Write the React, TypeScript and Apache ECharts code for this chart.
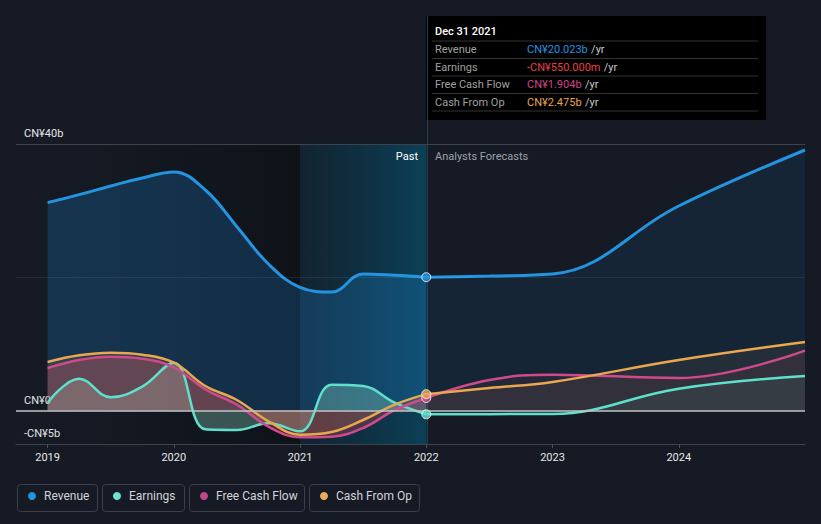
import React, { useEffect, useRef } from "react";
import * as echarts from "echarts";

// ---- data (CN¥ billions) ----
const pastYears = [2019, 2019.25, 2019.5, 2019.75, 2020, 2020.25, 2020.5, 2020.75, 2021, 2021.25, 2021.5, 2021.75, 2022];
const revenuePast = [31.2, 32.4, 33.7, 34.9, 35.8, 33.1, 27.6, 22.0, 18.5, 17.8, 20.5, 20.3, 20.023];
const earningsPast = [1.2, 4.8, 2.0, 3.6, 7.2, -2.8, -2.9, -1.9, -3.1, 3.9, 3.7, 1.2, -0.55];
const fcfPast = [6.4, 7.6, 8.1, 7.8, 6.5, 3.2, 0.9, -2.4, -4.0, -3.9, -2.6, 0.1, 1.904];
const cfoPast = [7.3, 8.3, 8.7, 8.4, 7.2, 3.7, 1.6, -1.6, -3.6, -3.2, -1.4, 0.9, 2.475];

const forecastYears = [2022, 2022.5, 2023, 2024, 2025];
const revenueForecast = [20.023, 20.2, 20.5, 30.7, 39.1];
const earningsForecast = [-0.55, -0.52, -0.5, 3.3, 5.2];
const fcfForecast = [1.904, 4.6, 5.4, 4.9, 9.0];
const cfoForecast = [2.475, 3.4, 4.3, 7.6, 10.3];

const xTicks = [2019, 2020, 2021, 2022, 2023, 2024];
const yTicks = [-5, 0, 40];

const seriesNames = ["Revenue", "Earnings", "Free Cash Flow", "Cash From Op"];
const tooltipDate = "Dec 31 2021";
const tooltipValues = ["CN¥20.023b", "-CN¥550.000m", "CN¥1.904b", "CN¥2.475b"];

// ---- styles ----
const FONT = 'Roboto, "Noto Sans", sans-serif';
const BG = "#151a24";
const lineColors = ["#2394e0", "#5fe0cc", "#d04a8a", "#e8a850"];
const valueColors = ["#2394e6", "#e8413c", "#d0458a", "#e8a44a"];
const legendDotColors = ["#2394df", "#6ee3d3", "#c5468a", "#e8ac5a"];
const pastFill = ["rgba(33,150,243,0.30)", "rgba(150,225,205,0.45)", "rgba(220,70,100,0.42)", "rgba(230,170,90,0.18)"];
const foreFill = ["rgba(33,150,243,0.13)", "rgba(100,225,205,0.10)", "rgba(210,80,110,0.12)", "rgba(230,170,90,0.10)"];
const lineWidths = [3, 2.5, 2.5, 2.5];
const legendLayout = [
  { x: 17, w: 80 },
  { x: 102, w: 82 },
  { x: 189, w: 115 },
  { x: 309, w: 110 },
];

function fmtY(v: number) {
  if (v === 0) return "CN¥0";
  return v < 0 ? `-CN¥${-v}b` : `CN¥${v}b`;
}

export default function App() {
  const ref = useRef<HTMLDivElement>(null);
  useEffect(() => {
    if (!ref.current) return;
    const chart = echarts.init(ref.current, undefined, { renderer: "svg" });

    const pastSets = [revenuePast, earningsPast, fcfPast, cfoPast];
    const foreSets = [revenueForecast, earningsForecast, fcfForecast, cfoForecast];

    const mkLine = (name: string, years: number[], vals: number[], i: number, fill: string) => ({
      type: "line",
      name,
      data: years.map((y, k) => [y, vals[k]]),
      smooth: 0.4,
      symbol: "none",
      lineStyle: { color: lineColors[i], width: lineWidths[i] },
      areaStyle: { color: fill, origin: "auto" },
      z: 2,
      silent: true,
    });

    const series: any[] = [
      {
        type: "line",
        name: "bg",
        data: [],
        z: 0,
        silent: true,
        markArea: {
          silent: true,
          data: [
            [
              {
                xAxis: 2018.75,
                itemStyle: {
                  color: new echarts.graphic.LinearGradient(0, 0, 1, 0, [
                    { offset: 0, color: "rgba(0,0,0,0)" },
                    { offset: 0.3, color: "rgba(0,0,0,0.05)" },
                    { offset: 1, color: "rgba(0,0,0,0.32)" },
                  ]),
                },
              },
              { xAxis: 2021 },
            ],
            [
              {
                xAxis: 2021,
                itemStyle: {
                  color: new echarts.graphic.LinearGradient(0, 0, 1, 0, [
                    { offset: 0, color: "rgba(0,90,120,0.15)" },
                    { offset: 1, color: "rgba(0,110,150,0.45)" },
                  ]),
                },
              },
              { xAxis: 2022 },
            ],
          ],
        },
        markLine: {
          silent: true,
          symbol: "none",
          label: { show: false },
          data: [
            { yAxis: 40, lineStyle: { color: "#3d434d", width: 1, type: "solid" } },
            { yAxis: 20, lineStyle: { color: "rgba(255,255,255,0.07)", width: 1, type: "solid" } },
            { yAxis: 0, lineStyle: { color: "#c4c4c4", width: 1.5, type: "solid" } },
          ],
        },
      },
    ];
    for (let i = 0; i < 4; i++) {
      series.push(mkLine(seriesNames[i], pastYears, pastSets[i], i, pastFill[i]));
      series.push(mkLine(seriesNames[i] + " forecast", forecastYears, foreSets[i], i, foreFill[i]));
    }
    series.push({
      type: "scatter",
      name: "current",
      z: 10,
      silent: true,
      symbolSize: 9,
      data: pastSets.map((s, i) => ({
        value: [pastYears[pastYears.length - 1], s[s.length - 1]],
        itemStyle: { color: lineColors[i], borderColor: "#ffffff", borderWidth: 1 },
      })),
    });

    const graphics: any[] = [
      {
        type: "line",
        z: 1,
        silent: true,
        shape: { x1: 427.5, y1: 16, x2: 427.5, y2: 444 },
        style: { stroke: "#23404f", lineWidth: 1 },
      },
      {
        type: "text",
        x: 418,
        y: 156,
        z: 5,
        style: { text: "Past", fill: "#ffffff", font: `11px ${FONT}`, align: "right", verticalAlign: "middle" },
      },
      {
        type: "text",
        x: 435,
        y: 156,
        z: 5,
        style: { text: "Analysts Forecasts", fill: "#9ba1a9", font: `11px ${FONT}`, align: "left", verticalAlign: "middle" },
      },
    ];

    // tooltip-like box
    const tip: any[] = [
      { type: "rect", shape: { x: 426, y: 16, width: 340, height: 104 }, style: { fill: "#000000" } },
      {
        type: "text",
        x: 435,
        y: 31,
        style: { text: tooltipDate, fill: "#ffffff", font: `500 11px ${FONT}`, verticalAlign: "middle" },
      },
    ];
    const sepY = [41, 58.5, 76, 93.5, 111];
    sepY.forEach((y) =>
      tip.push({ type: "line", shape: { x1: 432, y1: y, x2: 758, y2: y }, style: { stroke: "#333333", lineWidth: 1 } })
    );
    const rowY = [49.5, 67, 84.5, 102];
    seriesNames.forEach((n, i) => {
      tip.push({
        type: "text",
        x: 435,
        y: rowY[i],
        style: { text: n, fill: "#a0a0a0", font: `11px ${FONT}`, verticalAlign: "middle" },
      });
      tip.push({
        type: "text",
        x: 527,
        y: rowY[i],
        style: {
          text: `{v|${tooltipValues[i]}} {u|/yr}`,
          verticalAlign: "middle",
          rich: {
            v: { fill: valueColors[i], font: `11px ${FONT}` },
            u: { fill: "#c8c8c8", font: `11px ${FONT}` },
          },
        },
      });
    });
    graphics.push({ type: "group", z: 100, children: tip });

    // legend
    const leg: any[] = [];
    seriesNames.forEach((n, i) => {
      const L = legendLayout[i];
      leg.push({
        type: "rect",
        shape: { x: L.x + 0.5, y: 484.5, width: L.w, height: 27, r: 3 },
        style: { fill: "rgba(0,0,0,0)", stroke: "#3a3f4a", lineWidth: 1 },
      });
      leg.push({ type: "circle", shape: { cx: L.x + 15, cy: 496, r: 4 }, style: { fill: legendDotColors[i] } });
      leg.push({
        type: "text",
        x: L.x + 27,
        y: 496,
        style: { text: n, fill: "#d2d4d8", font: `12px ${FONT}`, verticalAlign: "middle" },
      });
    });
    graphics.push({ type: "group", z: 100, children: leg });

    chart.setOption({
      animation: false,
      backgroundColor: BG,
      textStyle: { fontFamily: FONT },
      grid: { left: 16, right: 16, top: 144, bottom: 80, containLabel: false },
      xAxis: {
        type: "value",
        min: 2018.75,
        max: 2025,
        splitLine: { show: false },
        axisLine: { show: true, onZero: false, lineStyle: { color: "#3d434c", width: 1 } },
        axisTick: { show: true, length: 4, customValues: xTicks, lineStyle: { color: "#4a4f58" } },
        axisLabel: {
          customValues: xTicks,
          formatter: (v: number) => String(v),
          color: "#e6e6e6",
          fontSize: 11,
          margin: 8,
          fontFamily: FONT,
        },
      },
      yAxis: {
        type: "value",
        min: -5,
        max: 40,
        splitLine: { show: false },
        axisLine: { show: false },
        axisTick: { show: false },
        axisLabel: {
          customValues: yTicks,
          inside: true,
          margin: 8,
          formatter: fmtY,
          color: "#e6e6e6",
          fontSize: 11,
          fontFamily: FONT,
          verticalAlign: "bottom",
          padding: [0, 0, 5, 0],
        },
      },
      series,
      graphic: graphics,
    });

    return () => chart.dispose();
  }, []);

  return (
    <div
      ref={ref}
      style={{ position: "fixed", left: 0, top: 0, width: 821, height: 524, background: BG }}
    />
  );
}
